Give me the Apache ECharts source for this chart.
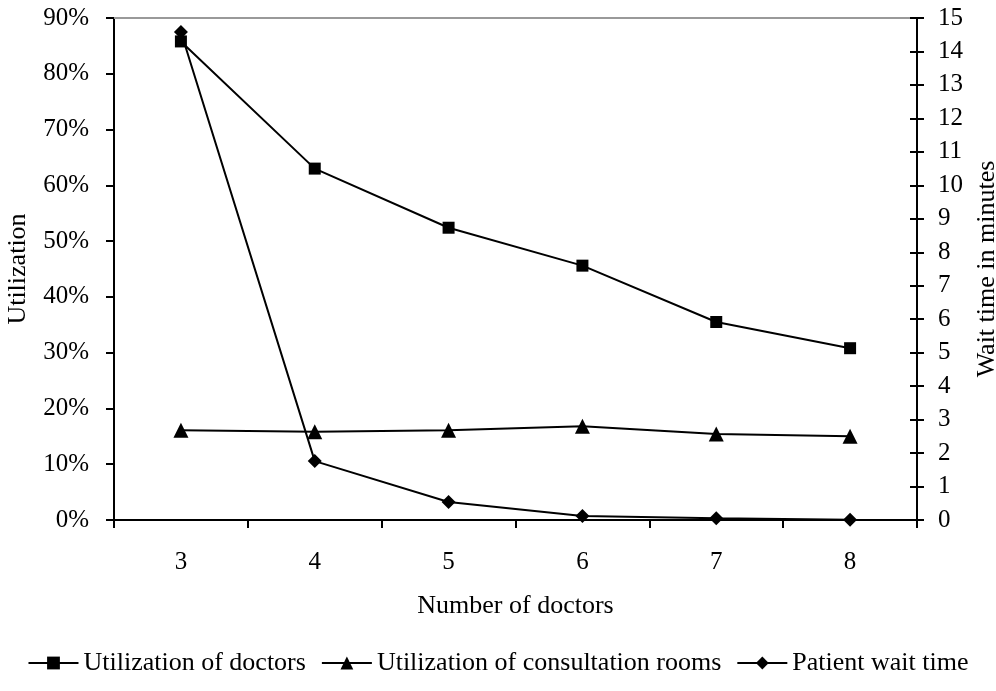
<!DOCTYPE html>
<html><head><meta charset="utf-8">
<script src="https://cdn.jsdelivr.net/npm/echarts@6/dist/echarts.min.js"></script>
<style>html,body{margin:0;padding:0;background:#fff}#c{width:996px;height:691px}</style>
</head><body><div id="c"></div>
<script>
const categories = ['3','4','5','6','7','8'];
const doctorsUtil = [85.8, 63.0, 52.4, 45.6, 35.5, 30.8];
const roomsUtil = [16.1, 15.8, 16.1, 16.8, 15.4, 15.0];
const waitTime = [14.58, 1.76, 0.54, 0.12, 0.05, 0.01];
const leftTicks = [0,10,20,30,40,50,60,70,80,90];
const rightTicks = [0,1,2,3,4,5,6,7,8,9,10,11,12,13,14,15];

const F = 'Liberation Serif, Times New Roman, serif';
const FS = 25;
const chart = echarts.init(document.getElementById('c'));
const lineStyle = {color:'#000', width:2};
chart.setOption({
  animation:false,
  textStyle:{fontFamily:F, color:'#000'},
  grid:{left:114, right:79, top:18, bottom:171, containLabel:false, outerBoundsMode:'none'},
  legend:{
    bottom:10, left:'center', itemWidth:50, itemHeight:16, itemGap:15,
    textStyle:{fontFamily:F, fontSize:26, color:'#000'},
    data:['Utilization of doctors','Utilization of consultation rooms','Patient wait time']
  },
  xAxis:[{
    type:'category', data:categories, boundaryGap:true,
    name:'Number of doctors', nameLocation:'middle', nameGap:73,
    nameTextStyle:{fontFamily:F, fontSize:26, color:'#000'},
    axisLine:{lineStyle:{color:'#000', width:2}},
    axisTick:{show:true, inside:false, length:8, alignWithLabel:false, lineStyle:{color:'#000', width:2}},
    axisLabel:{fontFamily:F, fontSize:FS, color:'#000', margin:30},
    splitLine:{show:false}
  },{
    type:'category', data:categories, position:'top',
    axisLine:{onZero:false, lineStyle:{color:'#999', width:2}}, axisTick:{show:false}, axisLabel:{show:false}
  }],
  yAxis:[{
    type:'value', min:0, max:90, interval:10, position:'left',
    name:'Utilization', nameLocation:'middle', nameGap:83, nameRotate:90,
    nameTextStyle:{fontFamily:F, fontSize:26, color:'#000'},
    axisLine:{show:true, lineStyle:{color:'#000', width:2}},
    axisTick:{show:true, inside:false, length:8, lineStyle:{color:'#000', width:2}},
    axisLabel:{fontFamily:F, fontSize:FS, color:'#000', margin:25, formatter: v => leftTicks.includes(v) ? v + '%' : ''},
    splitLine:{show:false}
  },{
    type:'value', min:0, max:15, interval:1, position:'right',
    name:'Wait time in minutes', nameLocation:'middle', nameGap:51, nameRotate:90,
    nameTextStyle:{fontFamily:F, fontSize:26, color:'#000'},
    axisLine:{show:true, lineStyle:{color:'#000', width:2}},
    axisTick:{show:true, inside:false, length:7, lineStyle:{color:'#000', width:2}},
    axisLabel:{fontFamily:F, fontSize:FS, color:'#000', margin:21, formatter: v => rightTicks.includes(v) ? String(v) : ''},
    splitLine:{show:false}
  },{
    type:'value', min:0, max:15, interval:1, position:'right',
    axisLine:{show:false},
    axisTick:{show:true, inside:true, length:7, lineStyle:{color:'#000', width:2}},
    axisLabel:{show:false}, splitLine:{show:false}
  }],
  series:[{
    name:'Utilization of doctors', type:'line', yAxisIndex:0, data:doctorsUtil,
    symbol:'rect', symbolSize:12, lineStyle, itemStyle:{color:'#000'}
  },{
    name:'Utilization of consultation rooms', type:'line', yAxisIndex:0, data:roomsUtil,
    symbol:'triangle', symbolSize:15, lineStyle, itemStyle:{color:'#000'}
  },{
    name:'Patient wait time', type:'line', yAxisIndex:1, data:waitTime,
    symbol:'diamond', symbolSize:14, lineStyle, itemStyle:{color:'#000'}
  }]
});
</script></body></html>
